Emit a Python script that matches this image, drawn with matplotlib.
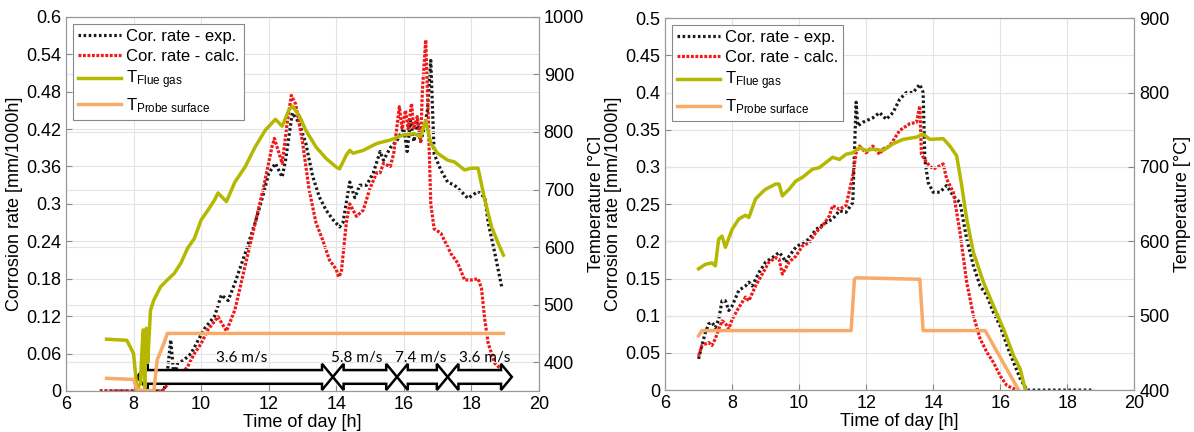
import numpy as np
import matplotlib
matplotlib.use('Agg')
import matplotlib.pyplot as plt
from matplotlib.patches import Polygon
from matplotlib.transforms import Bbox, TransformedBbox

plt.rcParams['font.family'] = ['Liberation Sans', 'DejaVu Sans']
plt.rcParams['mathtext.fontset'] = 'custom'
plt.rcParams['mathtext.rm'] = 'Liberation Sans'
plt.rcParams['mathtext.it'] = 'Liberation Sans:italic'

# ---------------- left chart data ----------------
L_exp_t = [7.0, 8.9, 9.0, 9.1, 9.2, 9.3, 9.5, 9.7, 9.9, 10.1, 10.4, 10.6, 10.8, 11.0, 11.3, 11.6,
           11.85, 12.0, 12.2, 12.4, 12.5, 12.7, 12.9, 13.1, 13.3, 13.5, 13.7, 13.9, 14.1, 14.2,
           14.4, 14.55, 14.7, 14.9, 15.1, 15.3, 15.4, 15.6, 15.8, 16.0, 16.1, 16.2, 16.3, 16.4,
           16.5, 16.6, 16.7, 16.8, 16.9, 17.1, 17.3, 17.5, 17.7, 17.9, 18.2, 18.4, 18.5, 18.7, 18.9]
L_exp_r = [0.0, 0.0, 0.03, 0.082, 0.02, 0.044, 0.05, 0.06, 0.08, 0.10, 0.12, 0.154, 0.145, 0.173,
           0.22, 0.27, 0.317, 0.349, 0.365, 0.343, 0.37, 0.446, 0.43, 0.397, 0.345, 0.311, 0.29,
           0.275, 0.263, 0.27, 0.335, 0.31, 0.33, 0.33, 0.35, 0.384, 0.37, 0.39, 0.402, 0.421,
           0.384, 0.434, 0.40, 0.43, 0.40, 0.42, 0.45, 0.53, 0.38, 0.354, 0.335, 0.33, 0.32, 0.309,
           0.32, 0.31, 0.27, 0.22, 0.167]

L_calc_t = [7.0, 8.85, 9.0, 9.3, 9.6, 9.8, 10.0, 10.2, 10.5, 10.75, 11.0, 11.3, 11.6, 11.85, 12.1,
            12.17, 12.4, 12.55, 12.67, 12.8, 13.0, 13.2, 13.4, 13.6, 13.8, 14.0, 14.07, 14.15, 14.3,
            14.4, 14.6, 14.8, 15.0, 15.2, 15.3, 15.4, 15.6, 15.7, 15.87, 15.95, 16.05, 16.13, 16.23,
            16.3, 16.4, 16.5, 16.55, 16.65, 16.72, 16.8, 16.9, 17.1, 17.4, 17.6, 17.8, 18.0, 18.2,
            18.3, 18.4, 18.5, 18.7, 18.9]
L_calc_r = [0.0, 0.0, 0.01, 0.02, 0.039, 0.06, 0.076, 0.098, 0.119, 0.096, 0.13, 0.20, 0.269,
            0.327, 0.392, 0.405, 0.365, 0.43, 0.474, 0.46, 0.40, 0.322, 0.27, 0.242, 0.21, 0.195,
            0.183, 0.19, 0.27, 0.30, 0.28, 0.29, 0.325, 0.35, 0.35, 0.365, 0.36, 0.38, 0.456,
            0.42, 0.45, 0.42, 0.461, 0.42, 0.44, 0.40, 0.48, 0.563, 0.45, 0.30, 0.26, 0.253, 0.22,
            0.205, 0.178, 0.178, 0.18, 0.165, 0.114, 0.076, 0.044, 0.034]

L_flue_t = [7.2, 7.8, 8.0, 8.1, 8.2, 8.28, 8.33, 8.38, 8.42, 8.5, 8.6, 8.8, 9.0, 9.2, 9.4, 9.6,
            9.8, 10.0, 10.2, 10.4, 10.5, 10.75, 11.0, 11.3, 11.6, 11.9, 12.2, 12.4, 12.6, 12.7,
            12.9, 13.1, 13.4, 13.7, 14.0, 14.1, 14.3, 14.4, 14.5, 14.8, 15.2, 15.6, 16.0, 16.3,
            16.5, 16.65, 16.8, 17.0, 17.3, 17.5, 17.8, 18.0, 18.2, 18.4, 18.6, 18.8, 18.95]
L_flue_T = [440, 438, 415, 352, 363, 456, 355, 459, 400, 490, 508, 531, 543, 554, 572, 598,
            615, 647, 664, 682, 694, 679, 713, 739, 774, 803, 822, 810, 838, 845,
            829, 803, 774, 754, 739, 736, 760, 768, 763, 768, 780, 786, 795, 797,
            792, 820, 780, 763, 751, 748, 734, 737, 737, 682, 635, 606, 586]

L_probe_t = [7.2, 8.0, 8.1, 8.6, 8.7, 8.9, 9.0, 18.95]
L_probe_T = [372, 370, 352, 350, 404, 433, 450, 450]

speed_start = [8.1, 13.9, 15.8, 17.3]
speed_end = [13.9, 15.8, 17.3, 19.2]
speed_label = ['3.6 m/s', '5.8 m/s', '7.4 m/s', '3.6 m/s']
speed_label_x = [11.2, 14.6, 16.5, 18.4]

# ---------------- right chart data ----------------
R_exp_t = [7.0, 7.1, 7.2, 7.3, 7.4, 7.5, 7.6, 7.7, 7.8, 7.9, 8.0, 8.2, 8.4, 8.5, 8.6, 8.8, 9.0,
           9.2, 9.4, 9.5, 9.6, 9.7, 9.9, 10.1, 10.3, 10.5, 10.8, 11.0, 11.2, 11.4, 11.6, 11.7,
           11.75, 11.9, 12.2, 12.4, 12.6, 12.8, 13.0, 13.2, 13.4, 13.6, 13.7, 13.75, 13.85, 14.0,
           14.2, 14.4, 14.6, 14.8, 15.0, 15.2, 15.4, 15.6, 15.8, 16.0, 16.2, 16.4, 16.6, 16.8, 18.8]
R_exp_r = [0.042, 0.06, 0.077, 0.089, 0.091, 0.084, 0.095, 0.12, 0.12, 0.107, 0.113, 0.134, 0.14,
           0.145, 0.14, 0.158, 0.172, 0.178, 0.185, 0.18, 0.172, 0.18, 0.192, 0.198, 0.203, 0.216,
           0.225, 0.23, 0.241, 0.239, 0.252, 0.387, 0.355, 0.36, 0.366, 0.373, 0.364, 0.373,
           0.391, 0.40, 0.40, 0.411, 0.40, 0.31, 0.279, 0.266, 0.266, 0.275, 0.261, 0.252, 0.203,
           0.167, 0.14, 0.127, 0.104, 0.086, 0.06, 0.037, 0.015, 0.0, 0.0]

R_calc_t = [7.0, 7.1, 7.3, 7.4, 7.5, 7.6, 7.7, 7.8, 7.9, 8.0, 8.2, 8.4, 8.5, 8.7, 8.9, 9.1, 9.3,
            9.4, 9.5, 9.7, 9.9, 10.1, 10.3, 10.5, 10.7, 10.9, 11.0, 11.2, 11.4, 11.6, 11.7, 11.8,
            12.0, 12.2, 12.4, 12.5, 12.7, 13.0, 13.3, 13.5, 13.6, 13.65, 13.8, 14.0, 14.3, 14.4,
            14.6, 14.8, 15.0, 15.2, 15.4, 15.6, 15.8, 16.0, 16.2, 16.5]
R_calc_r = [0.046, 0.06, 0.064, 0.06, 0.069, 0.082, 0.093, 0.09, 0.082, 0.095, 0.111, 0.125,
            0.12, 0.14, 0.156, 0.172, 0.178, 0.176, 0.156, 0.172, 0.18, 0.194, 0.198, 0.212,
            0.221, 0.234, 0.248, 0.243, 0.248, 0.288, 0.319, 0.328, 0.319, 0.328, 0.317, 0.324,
            0.328, 0.349, 0.358, 0.36, 0.382, 0.317, 0.306, 0.297, 0.304, 0.284, 0.266, 0.212,
            0.145, 0.10, 0.069, 0.051, 0.037, 0.019, 0.006, 0.0]

R_flue_t = [7.0, 7.2, 7.4, 7.5, 7.6, 7.7, 7.8, 8.0, 8.2, 8.4, 8.5, 8.7, 8.9, 9.0, 9.3, 9.4, 9.5,
            9.7, 9.9, 10.1, 10.4, 10.6, 10.8, 11.0, 11.2, 11.4, 11.6, 11.8, 12.0, 12.2, 12.5,
            12.8, 13.1, 13.5, 13.7, 13.9, 14.3, 14.5, 14.7, 14.85, 15.0, 15.2, 15.5, 15.8, 16.1,
            16.4, 16.6, 16.75]
R_flue_T = [563, 569, 571, 567, 603, 607, 592, 616, 630, 635, 632, 657, 666, 670, 677, 677, 661,
            670, 681, 686, 697, 699, 706, 713, 710, 717, 719, 726, 722, 724, 722,
            731, 737, 740, 744, 737, 738, 728, 715, 675, 630, 585, 545, 513, 482,
            446, 428, 400]

R_probe_t = [7.0, 7.1, 11.55, 11.65, 11.7, 13.6, 13.7, 15.55, 16.55]
R_probe_T = [473, 480, 480, 549, 551, 549, 480, 480, 400]

# ---------------- style ----------------
c_exp = '#1a1a1a'
c_calc = '#f01818'
c_flue = '#b4b800'
c_probe = '#f9aa66'
fs = 13


def setup(ax, ax2, ymax, ystep, tmin, tmax):
    ax.set_xlim(6, 20)
    ax.set_ylim(0, ymax)
    ax2.set_ylim(tmin, tmax)
    ax.set_xticks(np.arange(6, 21, 2))
    yt = np.round(np.arange(0, ymax + 1e-9, ystep), 2)
    ax.set_yticks(yt)
    ax.set_yticklabels(['%g' % v for v in yt])
    ax2.set_yticks(np.arange(400, tmax + 1, 100))
    for a in (ax, ax2):
        a.tick_params(direction='in', labelsize=fs, length=4, color='#888888')
        for s in a.spines.values():
            s.set_color('#999999')
    ax.grid(True, color='#e4e4e4', lw=0.8)
    ax2.grid(True, color='#e4e4e4', lw=0.8)
    ax.set_axisbelow(True)
    ax.set_xlabel('Time of day [h]', fontsize=fs, labelpad=1)
    ax.set_ylabel('Corrosion rate [mm/1000h]', fontsize=fs, labelpad=2)
    ax2.set_ylabel('Temperature [°C]', fontsize=fs, labelpad=3)


def draw(ax, ax2, et, er, ct, cr, ft, fT, pt, pT):
    h1, = ax.plot(et, er, color=c_exp, lw=2.3, ls=(0, (0.8, 0.8)), label='Cor. rate - exp.')
    h2, = ax.plot(ct, cr, color=c_calc, lw=2.3, ls=(0, (0.9, 0.5)), label='Cor. rate - calc.')
    h3, = ax2.plot(ft, fT, color=c_flue, lw=2.5, label=r'T$_{\mathrm{Flue\ gas}}$')
    h4, = ax2.plot(pt, pT, color=c_probe, lw=2.5, label=r'T$_{\mathrm{Probe\ surface}}$')
    leg = ax2.legend(handles=[h1, h2, h3, h4], loc='upper left', fontsize=12,
                     fancybox=False, framealpha=1, edgecolor='#888888',
                     handlelength=2.6, handletextpad=0.3, borderpad=0.3,
                     labelspacing=0.3, borderaxespad=0.4)
    leg.get_frame().set_linewidth(0.8)


fig = plt.figure(figsize=(11.94, 4.32), dpi=100)

# left chart
axL = fig.add_axes([0.0553, 0.095, 0.396, 0.866])
axL2 = axL.twinx()
setup(axL, axL2, 0.6, 0.06, 350, 1000)
draw(axL, axL2, L_exp_t, L_exp_r, L_calc_t, L_calc_r, L_flue_t, L_flue_T, L_probe_t, L_probe_T)

# velocity arrows (in corrosion-rate coordinates)
yc, sh, hh, hl = 0.0225, 0.011, 0.021, 0.32
for x0, x1 in zip(speed_start, speed_end):
    pts = [(x0, yc), (x0 + hl, yc + hh), (x0 + hl, yc + sh), (x1 - hl, yc + sh),
           (x1 - hl, yc + hh), (x1, yc), (x1 - hl, yc - hh), (x1 - hl, yc - sh),
           (x0 + hl, yc - sh), (x0 + hl, yc - hh)]
    axL2.add_patch(Polygon(pts, closed=True, facecolor='white', edgecolor='black',
                           lw=1.8, transform=axL.transData, zorder=1.5, clip_on=False))
for xl, lab in zip(speed_label_x, speed_label):
    axL2.text(xl, 0.053, lab, transform=axL.transData, ha='center', va='center',
              fontsize=11, family=['Lato', 'DejaVu Sans'], zorder=1.4)

# clip the left chart's right label at the panel border like the source image
clip = TransformedBbox(Bbox([[0, 0], [600 / 1194, 1]]), fig.transFigure)
axL2.yaxis.label.set_clip_box(clip)
axL2.yaxis.label.set_clip_on(True)

# right chart
axR = fig.add_axes([0.557, 0.097, 0.393, 0.861])
axR2 = axR.twinx()
setup(axR, axR2, 0.5, 0.05, 400, 900)
draw(axR, axR2, R_exp_t, R_exp_r, R_calc_t, R_calc_r, R_flue_t, R_flue_T, R_probe_t, R_probe_T)

fig.savefig('out.png', dpi=100)
